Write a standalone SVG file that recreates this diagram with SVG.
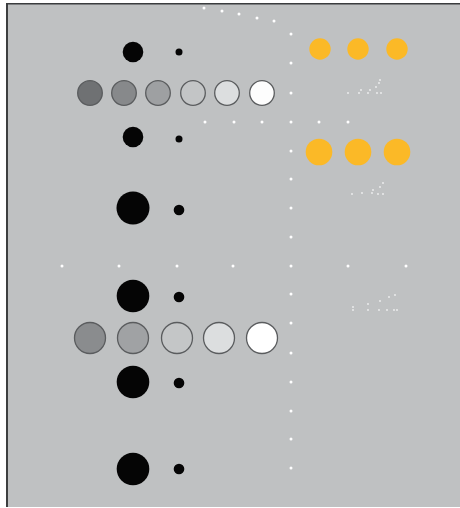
<svg xmlns="http://www.w3.org/2000/svg" width="460" height="508" viewBox="0 0 460 508">
<style>
.bk{fill:#050505}
.or{fill:#fbb927}
.gr{stroke:#5a5c5e;stroke-width:1.3}
.wd{fill:#ffffff}
.sp{fill:#ffffff;opacity:0.75}
</style>
<rect x="0" y="0" width="460" height="508" fill="#ffffff"/>
<rect x="6" y="3" width="454" height="504" fill="#bfc1c2"/>
<line x1="7" y1="3" x2="7" y2="507" stroke="#2e3032" stroke-width="1.8"/>
<line x1="6" y1="3.8" x2="460" y2="3.8" stroke="#3a3c3e" stroke-width="1.6"/>
<g id="connectors">
<circle class="wd" cx="204" cy="8" r="1.5"/>
<circle class="wd" cx="222" cy="11" r="1.5"/>
<circle class="wd" cx="239" cy="14" r="1.5"/>
<circle class="wd" cx="257" cy="18" r="1.5"/>
<circle class="wd" cx="274" cy="21" r="1.5"/>
<circle class="wd" cx="291" cy="34" r="1.5"/>
<circle class="wd" cx="291" cy="63" r="1.5"/>
<circle class="wd" cx="291" cy="93" r="1.5"/>
<circle class="wd" cx="205" cy="122" r="1.5"/>
<circle class="wd" cx="234" cy="122" r="1.5"/>
<circle class="wd" cx="262" cy="122" r="1.5"/>
<circle class="wd" cx="291" cy="122" r="1.5"/>
<circle class="wd" cx="319" cy="122" r="1.5"/>
<circle class="wd" cx="348" cy="122" r="1.5"/>
<circle class="wd" cx="291" cy="151" r="1.5"/>
<circle class="wd" cx="291" cy="179" r="1.5"/>
<circle class="wd" cx="291" cy="208" r="1.5"/>
<circle class="wd" cx="291" cy="237" r="1.5"/>
<circle class="wd" cx="62" cy="266" r="1.5"/>
<circle class="wd" cx="119" cy="266" r="1.5"/>
<circle class="wd" cx="177" cy="266" r="1.5"/>
<circle class="wd" cx="233" cy="266" r="1.5"/>
<circle class="wd" cx="291" cy="266" r="1.5"/>
<circle class="wd" cx="348" cy="266" r="1.5"/>
<circle class="wd" cx="406" cy="266" r="1.5"/>
<circle class="wd" cx="291" cy="294" r="1.5"/>
<circle class="wd" cx="291" cy="323" r="1.5"/>
<circle class="wd" cx="291" cy="353" r="1.5"/>
<circle class="wd" cx="291" cy="382" r="1.5"/>
<circle class="wd" cx="291" cy="411" r="1.5"/>
<circle class="wd" cx="291" cy="439" r="1.5"/>
<circle class="wd" cx="291" cy="468" r="1.5"/>
</g>
<g id="row1">
<circle class="bk" cx="133" cy="52" r="10.3"/>
<circle class="bk" cx="179" cy="52" r="3.5"/>
</g>
<g id="orange1">
<circle class="or" cx="320" cy="49" r="10.7"/>
<circle class="or" cx="358" cy="49" r="10.7"/>
<circle class="or" cx="397" cy="49" r="10.7"/>
</g>
<g id="grays1">
<circle class="gr" cx="90" cy="93" r="12.3" fill="#6f7173"/>
<circle class="gr" cx="124" cy="93" r="12.3" fill="#87898b"/>
<circle class="gr" cx="158" cy="93" r="12.3" fill="#9ea0a2"/>
<circle class="gr" cx="193" cy="93" r="12.3" fill="#c3c5c6"/>
<circle class="gr" cx="227" cy="93" r="12.3" fill="#dcdedf"/>
<circle class="gr" cx="262" cy="93" r="12.3" fill="#fdfdfd"/>
</g>
<g id="row2">
<circle class="bk" cx="133" cy="137" r="10.3"/>
<circle class="bk" cx="179" cy="139" r="3.5"/>
</g>
<g id="orange2">
<circle class="or" cx="319" cy="152" r="13.3"/>
<circle class="or" cx="358" cy="152" r="13.3"/>
<circle class="or" cx="397" cy="152" r="13.3"/>
</g>
<g id="row3">
<circle class="bk" cx="133" cy="208" r="16.5"/>
<circle class="bk" cx="179" cy="210" r="5.3"/>
</g>
<g id="row4">
<circle class="bk" cx="133" cy="296" r="16.3"/>
<circle class="bk" cx="179" cy="297" r="5.3"/>
</g>
<g id="grays2">
<circle class="gr" cx="90" cy="338" r="15.5" fill="#8a8c8e"/>
<circle class="gr" cx="133" cy="338" r="15.5" fill="#a0a2a4"/>
<circle class="gr" cx="177" cy="338" r="15.5" fill="#c4c6c7"/>
<circle class="gr" cx="219" cy="338" r="15.5" fill="#dcdedf"/>
<circle class="gr" cx="262" cy="338" r="15.5" fill="#ffffff"/>
</g>
<g id="row5">
<circle class="bk" cx="133" cy="382" r="16.3"/>
<circle class="bk" cx="179" cy="383" r="5.3"/>
</g>
<g id="row6">
<circle class="bk" cx="133" cy="469" r="16.3"/>
<circle class="bk" cx="179" cy="469" r="5.3"/>
</g>
<g id="marks">
<circle class="sp" cx="348" cy="93" r="0.9"/>
<circle class="sp" cx="359" cy="93" r="0.9"/>
<circle class="sp" cx="361" cy="90" r="0.9"/>
<circle class="sp" cx="368" cy="93" r="0.9"/>
<circle class="sp" cx="370" cy="90" r="0.9"/>
<circle class="sp" cx="376" cy="87" r="0.9"/>
<circle class="sp" cx="379" cy="83" r="0.9"/>
<circle class="sp" cx="380" cy="80" r="0.9"/>
<circle class="sp" cx="377" cy="93" r="0.9"/>
<circle class="sp" cx="381" cy="93" r="0.9"/>
<circle class="sp" cx="352" cy="194" r="0.9"/>
<circle class="sp" cx="362" cy="193" r="0.9"/>
<circle class="sp" cx="372" cy="193" r="0.9"/>
<circle class="sp" cx="373" cy="190" r="0.9"/>
<circle class="sp" cx="378" cy="194" r="0.9"/>
<circle class="sp" cx="383" cy="194" r="0.9"/>
<circle class="sp" cx="380" cy="187" r="0.9"/>
<circle class="sp" cx="383" cy="183" r="0.9"/>
<circle class="sp" cx="353" cy="307" r="0.9"/>
<circle class="sp" cx="353" cy="310" r="0.9"/>
<circle class="sp" cx="368" cy="304" r="0.9"/>
<circle class="sp" cx="368" cy="310" r="0.9"/>
<circle class="sp" cx="379" cy="310" r="0.9"/>
<circle class="sp" cx="380" cy="301" r="0.9"/>
<circle class="sp" cx="387" cy="310" r="0.9"/>
<circle class="sp" cx="394" cy="310" r="0.9"/>
<circle class="sp" cx="397" cy="310" r="0.9"/>
<circle class="sp" cx="389" cy="297" r="0.9"/>
<circle class="sp" cx="395" cy="295" r="0.9"/>
</g>
</svg>
